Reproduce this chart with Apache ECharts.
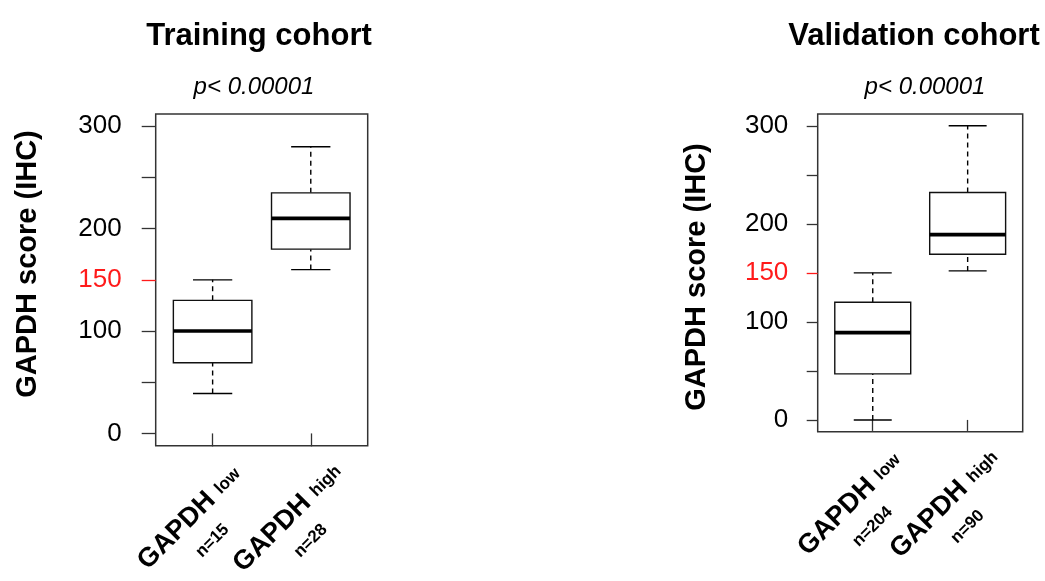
<!DOCTYPE html>
<html>
<head>
<meta charset="utf-8">
<script src="https://cdn.jsdelivr.net/npm/echarts@6/dist/echarts.min.js"></script>
<style>
html,body{margin:0;padding:0;background:#fff;}
#chart{width:1045px;height:581px;}
</style>
</head>
<body>
<div id="chart"></div>
<script>
// ---- data ----
const categories = ['low', 'high'];
const trainingN = [15, 28];
const validationN = [204, 90];
// [min, q1, median, q3, max]
const trainingLow = [39, 69, 100, 130, 150];
const trainingHigh = [160, 180, 210, 235, 280];
const validationLow = [0, 47, 89, 120, 150];
const validationHigh = [152, 169, 189, 232, 300];
const yTicks = [0, 50, 100, 200, 250, 300];
const yLabels = [0, 100, 200, 300];
const cutoff = [150];
const titles = ['Training cohort', 'Validation cohort'];
const pText = 'p< 0.00001';
const yName = 'GAPDH score (IHC)';

const FONT = "'Liberation Sans', Arial, sans-serif";
const chart = echarts.init(document.getElementById('chart'));

function renderBox(params, api) {
  const x = api.value(0);
  const mn = api.value(1), q1 = api.value(2), md = api.value(3), q3 = api.value(4), mx = api.value(5);
  const hw = 0.4, cw = 0.2;
  const p = (a, b) => api.coord([a, b]);
  const line = (a, b, style) => ({
    type: 'line',
    shape: { x1: a[0], y1: a[1], x2: b[0], y2: b[1] },
    style: Object.assign({ stroke: '#000', lineWidth: 1.4 }, style)
  });
  const tl = p(x - hw, q3), br = p(x + hw, q1);
  return {
    type: 'group',
    children: [
      line(p(x, q3), p(x, mx), { lineDash: [5, 4] }),
      line(p(x, mn), p(x, q1), { lineDash: [5, 4] }),
      line(p(x - cw, mx), p(x + cw, mx), {}),
      line(p(x - cw, mn), p(x + cw, mn), {}),
      {
        type: 'rect',
        shape: { x: tl[0], y: tl[1], width: br[0] - tl[0], height: br[1] - tl[1] },
        style: { fill: '#fff', stroke: '#111', lineWidth: 1.4 }
      },
      line(p(x - hw, md), p(x + hw, md), { lineWidth: 3.6 })
    ]
  };
}

function makeX(gridIndex, nArr, tickLen) {
  return {
    type: 'value', gridIndex, min: 0.42, max: 2.58,
    axisLine: { show: false },
    splitLine: { show: false },
    axisTick: { show: true, customValues: [1, 2], length: tickLen, lineStyle: { color: '#333', width: 1.3 } },
    axisLabel: {
      customValues: [1, 2], rotate: 45, align: 'center', verticalAlign: 'middle',
      margin: 76, padding: [0, 27, 0, 0],
      formatter: v => '{g|GAPDH}{s|' + categories[Math.round(v) - 1] + '}\n{n|n=' + nArr[Math.round(v) - 1] + '}',
      rich: {
        g: { fontSize: 27, fontWeight: 'bold', fontFamily: FONT, color: '#000' },
        s: { fontSize: 17, fontWeight: 'bold', fontFamily: FONT, color: '#000', verticalAlign: 'middle', padding: [2, 0, 0, 8] },
        n: { fontSize: 17, fontWeight: 'bold', fontFamily: FONT, color: '#000', lineHeight: 38 }
      }
    }
  };
}

function makeY(gridIndex, ticks, labels, color, tickLen, margin) {
  return {
    type: 'value', gridIndex, min: -12, max: 312, position: 'left', offset: 0,
    axisLine: { show: false },
    splitLine: { show: false },
    axisTick: { show: true, customValues: ticks, length: tickLen, lineStyle: { color: color, width: 1.3 } },
    axisLabel: { customValues: labels, margin: margin, fontSize: 26, fontFamily: FONT, color: color === '#333' ? '#000' : color }
  };
}

const option = {
  backgroundColor: '#fff',
  animation: false,
  title: [
    { text: titles[0], left: 254, top: 15.6, textAlign: 'center', textStyle: { fontSize: 31, fontWeight: 'bold', fontFamily: FONT, color: '#000' } },
    { text: titles[1], left: 909, top: 15.6, textAlign: 'center', textStyle: { fontSize: 31, fontWeight: 'bold', fontFamily: FONT, color: '#000' } },
    { text: pText, left: 249, top: 70, textAlign: 'center', textStyle: { fontSize: 24, fontStyle: 'italic', fontWeight: 'normal', fontFamily: FONT, color: '#000' } },
    { text: pText, left: 920, top: 70, textAlign: 'center', textStyle: { fontSize: 24, fontStyle: 'italic', fontWeight: 'normal', fontFamily: FONT, color: '#000' } }
  ],
  grid: [
    { left: 155.7, top: 114, width: 212, height: 331.7, show: true, borderColor: '#333', borderWidth: 1.5, backgroundColor: 'transparent', containLabel: false, outerBoundsMode: 'none' },
    { left: 817.7, top: 114, width: 205, height: 317.7, show: true, borderColor: '#333', borderWidth: 1.5, backgroundColor: 'transparent', containLabel: false, outerBoundsMode: 'none' }
  ],
  xAxis: [makeX(0, trainingN, 13), makeX(1, validationN, 11)],
  yAxis: [
    makeY(0, yTicks, yLabels, '#333', 14, 34),
    makeY(0, cutoff, cutoff, '#ff1a1a', 14, 34),
    makeY(1, yTicks, yLabels, '#333', 11, 29.4),
    makeY(1, cutoff, cutoff, '#ff1a1a', 11, 29.4)
  ],
  graphic: [
    { type: 'text', x: 27.5, y: 264, rotation: Math.PI / 2, style: { text: yName, font: 'bold 29px ' + FONT, textAlign: 'center', textVerticalAlign: 'middle', fill: '#000' } },
    { type: 'text', x: 696.7, y: 277, rotation: Math.PI / 2, style: { text: yName, font: 'bold 29px ' + FONT, textAlign: 'center', textVerticalAlign: 'middle', fill: '#000' } }
  ],
  series: [
    {
      type: 'custom', xAxisIndex: 0, yAxisIndex: 0,
      encode: { x: 0, y: [1, 2, 3, 4, 5] },
      renderItem: renderBox,
      data: [[1].concat(trainingLow), [2].concat(trainingHigh)]
    },
    {
      type: 'custom', xAxisIndex: 1, yAxisIndex: 2,
      encode: { x: 0, y: [1, 2, 3, 4, 5] },
      renderItem: renderBox,
      data: [[1].concat(validationLow), [2].concat(validationHigh)]
    }
  ]
};
chart.setOption(option);
</script>
</body>
</html>
